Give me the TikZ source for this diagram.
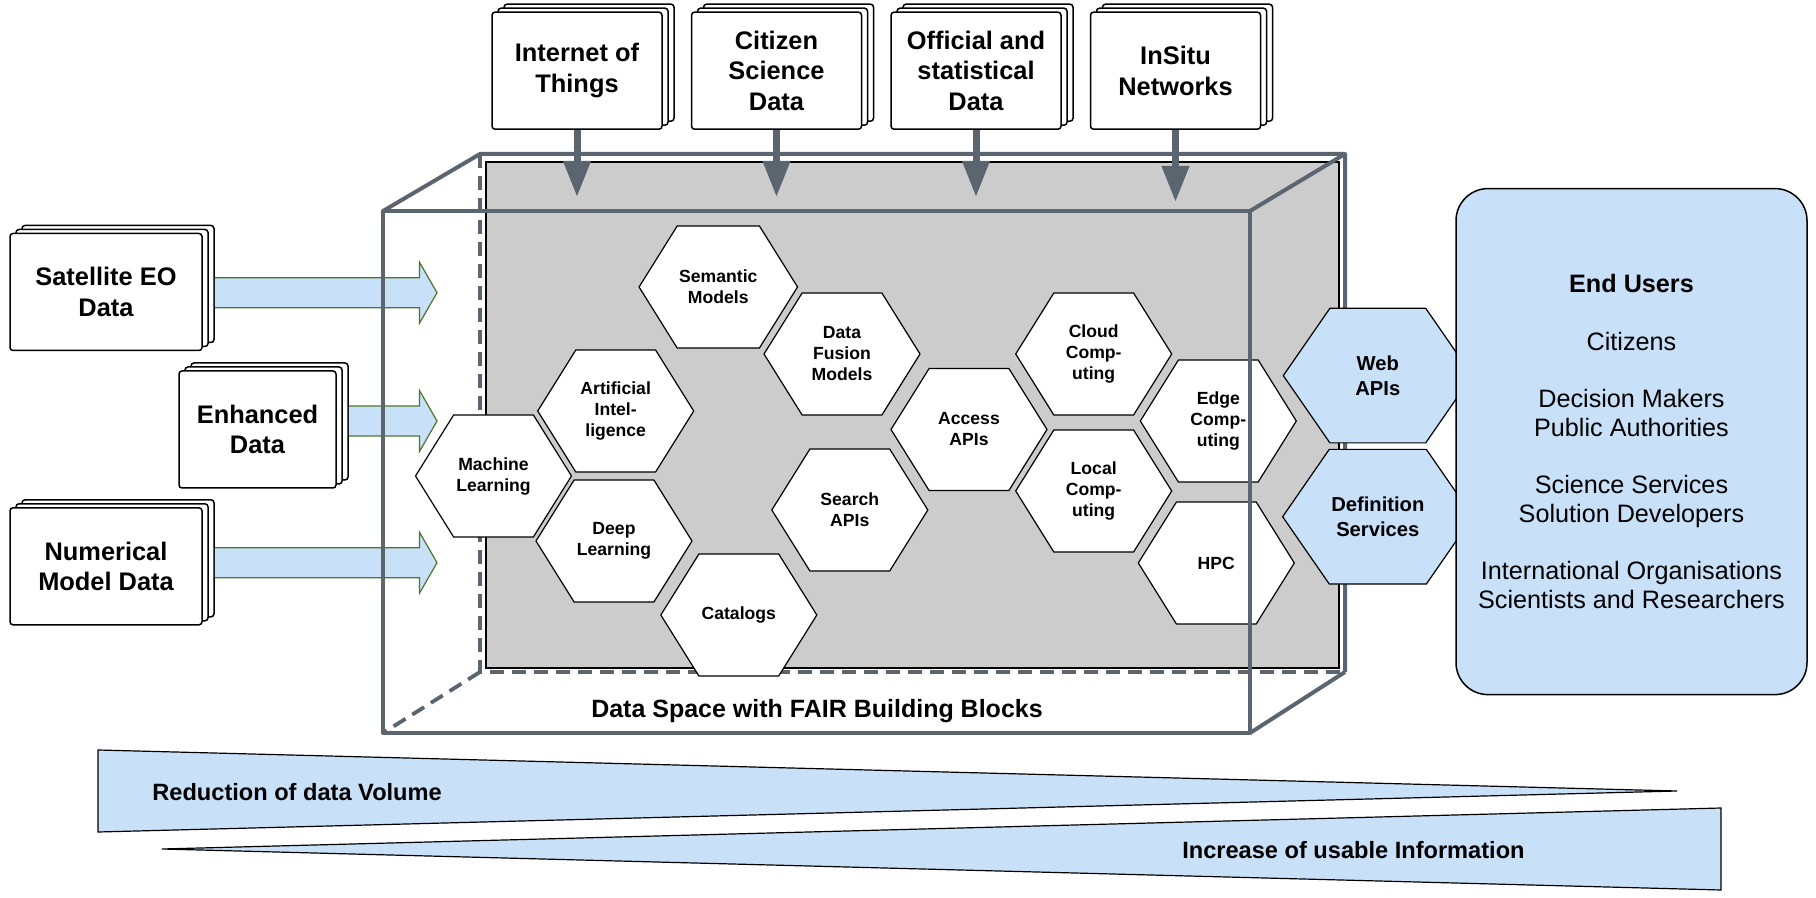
\documentclass[tikz,border=0pt]{standalone}
\usepackage{fontspec}
\setmainfont{Liberation Sans}
\usetikzlibrary{arrows.meta,calc,shadows,shapes.symbols}
\definecolor{slate}{RGB}{90,101,112}
\definecolor{panel}{RGB}{204,204,204}
\definecolor{sky}{RGB}{200,224,248}
\definecolor{leaf}{RGB}{75,120,40}
\newcommand{\fatarrow}[2]{
  \draw[fat] ($(#1.east |- #2)+(12,-15)$) -- ($(#2)+(-17.5,-15)$) -- ($(#2)+(-17.5,-30.5)$)
    -- (#2) -- ($(#2)+(-17.5,30.5)$) -- ($(#2)+(-17.5,15)$) -- ($(#1.east |- #2)+(12,15)$);
}
\tikzset{
  stackbox/.style={draw, line width=0.75pt, fill=white, rounded corners=1.5pt,
    minimum width=#1, minimum height=58.5pt, inner sep=2pt, align=center,
    font=\fontsize{12.7}{15.3}\selectfont\bfseries,
    copy shadow={shadow xshift=6pt, shadow yshift=4pt},
    copy shadow={shadow xshift=3pt, shadow yshift=2pt}},
  stackbox/.default=85pt,
  hexa/.style={shape=signal, signal to=east and west, signal pointer angle=116,
    draw, line width=0.6pt, fill=white, minimum width=78pt, minimum height=61pt,
    inner sep=1pt, align=center, font=\fontsize{8.8}{10.5}\selectfont\bfseries},
  bighexa/.style={hexa, fill=sky, signal pointer angle=110.6, minimum width=94.5pt,
    minimum height=67.3pt, font=\fontsize{10.1}{12.5}\selectfont\bfseries},
  fat/.style={draw=leaf, line width=0.6pt, fill=sky},
  feed/.style={draw=slate, line width=3.5pt, -{Triangle[length=18pt,width=13pt]}},
  cube/.style={draw=slate, line width=2pt, line join=round},
  hidden/.style={draw=slate, line width=1.9pt, dash pattern=on 7pt off 4pt},
  wedge/.style={draw, line width=0.6pt, fill=sky},
  wedgetext/.style={inner sep=0pt, font=\fontsize{11.8}{14}\selectfont\bfseries},
  users/.style={draw, line width=0.75pt, fill=sky, rounded corners=16pt,
    minimum width=175.5pt, minimum height=253pt, align=center,
    font=\fontsize{12.6}{14.35}\selectfont}
}
\begin{document}
\begin{tikzpicture}[x=0.5pt, y=-0.5pt]
  \useasboundingbox (0,0) rectangle (1816,898);
  \coordinate (btl) at (480,154);
  \coordinate (btr) at (1345,154);
  \coordinate (bbr) at (1345,672);
  \coordinate (bbl) at (480,672);
  \coordinate (ftl) at (383,211);
  \coordinate (ftr) at (1250,211);
  \coordinate (fbr) at (1250,733);
  \coordinate (fbl) at (383,733);
  \draw[fill=panel, line width=0.6pt] (486,162) rectangle (1339,668);
  \draw[hidden] (btl) -- (bbl) -- (bbr);
  \draw[hidden] (bbl) -- (fbl);
  \draw[cube] (bbr) -- (btr) -- (btl) -- (ftl);
  \draw[cube] (btr) -- (ftr);
  \draw[cube] (bbr) -- (fbr);

  \node[hexa] (ml)     at (493.5,476) {Machine\\Learning};
  \node[hexa] (ai)     at (615.7,411) {Artificial\\Intel-\\ligence};
  \node[hexa] (dl)     at (614,541)   {Deep\\Learning};
  \node[hexa] (sem)    at (718.3,287) {Semantic\\Models};
  \node[hexa] (fus)    at (842,354)   {Data\\Fusion\\Models};
  \node[hexa] (search) at (849.8,510) {Search\\APIs};
  \node[hexa] (cat)    at (738.8,615) {Catalogs};
  \node[hexa] (access) at (969,429.5) {Access\\APIs};
  \node[hexa] (cloud)  at (1093.7,354) {Cloud\\Comp-\\uting};
  \node[hexa] (local)  at (1093.7,491) {Local\\Comp-\\uting};
  \node[hexa] (edge)   at (1218.3,421) {Edge\\Comp-\\uting};
  \node[hexa] (hpc)    at (1216.3,563) {HPC};

  \node[stackbox=96pt]   (sat) at (106,292)   {Satellite EO\\Data};
  \node[stackbox=78.5pt] (enh) at (257.5,429.5) {Enhanced\\Data};
  \node[stackbox=96pt]   (num) at (106,566.3) {Numerical\\Model Data};
  \coordinate (satin) at (437,292.7);
  \coordinate (enhin) at (437,421);
  \coordinate (numin) at (437,562.7);
  \fatarrow{sat}{satin}
  \fatarrow{enh}{enhin}
  \fatarrow{num}{numin}

  \draw[cube] (ftl) rectangle (fbr);
  \node[font=\fontsize{12.5}{15}\selectfont\bfseries] (dslabel) at (817,711) {Data Space with FAIR Building Blocks};

  \node[bighexa] (web)  at (1377.8,375.6) {Web\\APIs};
  \node[bighexa] (defs) at (1377.8,516.7) {Definition\\Services};

  \node[stackbox] (iot) at (577,70.7)    {Internet of\\Things};
  \node[stackbox] (cit) at (776.5,70.7)  {Citizen\\Science\\Data};
  \node[stackbox] (off) at (976,70.7)    {Official and\\statistical\\Data};
  \node[stackbox] (ins) at (1175.5,70.7) {InSitu\\Networks};
  \coordinate (iotin) at (577,197);
  \coordinate (citin) at (776.5,197);
  \coordinate (offin) at (976,197);
  \coordinate (insin) at (1175.5,202);
  \draw[feed] (iot) -- (iotin);
  \draw[feed] (cit) -- (citin);
  \draw[feed] (off) -- (offin);
  \draw[feed] (ins) -- (insin);

  \node[users] (users) at (1631.5,441.6) {\textbf{End Users}\\[14.35pt]Citizens\\[14.35pt]Decision Makers\\Public Authorities\\[14.35pt]Science Services\\Solution Developers\\[14.35pt]International Organisations\\Scientists and Researchers};

  \draw[wedge] (98,750) -- (1677,791) -- (98,832) -- cycle;
  \draw[wedge] (162,849) -- (1721,808) -- (1721,890) -- cycle;
  \node[wedgetext, anchor=west] (reduce) at (152,792) {Reduction of data Volume};
  \node[wedgetext, anchor=east] (gain)   at (1525,850) {Increase of usable Information};
\end{tikzpicture}
\end{document}
